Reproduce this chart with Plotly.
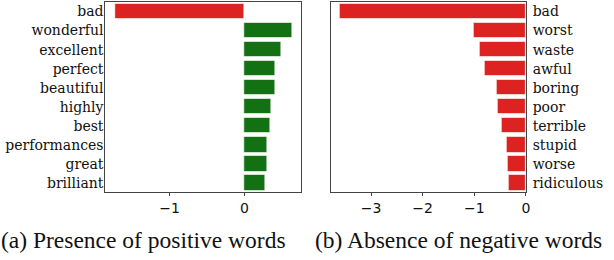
import plotly.graph_objects as go

# Data
pos_words = ["bad", "wonderful", "excellent", "perfect", "beautiful", "highly",
             "best", "performances", "great", "brilliant"]
pos_values = [-1.73, 0.64, 0.495, 0.41, 0.41, 0.36, 0.34, 0.31, 0.30, 0.28]

neg_words = ["bad", "worst", "waste", "awful", "boring", "poor", "terrible",
             "stupid", "worse", "ridiculous"]
neg_values = [-3.6, -1.0, -0.90, -0.79, -0.57, -0.54, -0.47, -0.37, -0.35, -0.33]

x_ticks_a = [-1, 0]
x_ticks_b = [-3, -2, -1, 0]

captions = ["(a) Presence of positive words", "(b) Absence of negative words"]

RED = "#dd2222"
GREEN = "#137013"

W, H = 614, 260

def colors(vals):
    return [RED if v < 0 else GREEN for v in vals]

fig = go.Figure()
fig.add_trace(go.Bar(
    x=pos_values, y=list(range(len(pos_words))), orientation="h",
    marker=dict(color=colors(pos_values), line=dict(color="rgba(255,255,255,0.6)", width=1)),
    width=0.8, xaxis="x", yaxis="y", showlegend=False,
))
fig.add_trace(go.Bar(
    x=neg_values, y=list(range(len(neg_words))), orientation="h",
    marker=dict(color=colors(neg_values), line=dict(color="rgba(255,255,255,0.6)", width=1)),
    width=0.8, xaxis="x2", yaxis="y2", showlegend=False,
))

tick_font = dict(family="DejaVu Sans", size=14, color="#111")
label_font = dict(family="DejaVu Serif", size=14, color="#111")

def ticktext(v):
    return ("\u2212" + str(abs(v))) if v < 0 else str(v)

common_x = dict(showgrid=False, zeroline=False, showline=True, linecolor="#444",
                linewidth=1, mirror=True, ticks="outside", ticklen=3,
                tickcolor="#444", tickfont=tick_font)
common_y = dict(showgrid=False, zeroline=False, showline=True, linecolor="#444",
                linewidth=1, mirror=True, ticks="", tickfont=label_font,
                range=[9.47, -0.5])

fig.update_layout(
    width=W, height=H,
    margin=dict(l=0, r=0, t=0, b=0),
    paper_bgcolor="white", plot_bgcolor="white",
    bargap=0,
    xaxis=dict(domain=[106 / W, 303 / W], range=[-1.86, 0.757],
               tickvals=x_ticks_a, ticktext=[ticktext(v) for v in x_ticks_a],
               anchor="y", **common_x),
    yaxis=dict(domain=[1 - 192 / H, 1 - 2 / H], anchor="x",
               tickvals=list(range(len(pos_words))), ticktext=pos_words,
               ticklabelstandoff=-2, **common_y),
    xaxis2=dict(domain=[333 / W, 529.3 / W], range=[-3.78, 0],
                tickvals=x_ticks_b, ticktext=[ticktext(v) for v in x_ticks_b],
                anchor="y2", **common_x),
    yaxis2=dict(domain=[1 - 192 / H, 1 - 2 / H], anchor="x2", side="right",
                tickvals=list(range(len(neg_words))), ticktext=neg_words,
                ticklabelstandoff=3, **common_y),
)

cap_font = dict(family="Liberation Serif", size=23.5, color="#111")
fig.add_annotation(text=captions[0], x=-1 / W, y=1 - 240 / H, xref="paper", yref="paper",
                   xanchor="left", yanchor="middle", showarrow=False, font=cap_font)
fig.add_annotation(text=captions[1], x=315 / W, y=1 - 240 / H, xref="paper", yref="paper",
                   xanchor="left", yanchor="middle", showarrow=False, font=cap_font)

fig.write_html("out.html", config={"displayModeBar": False},
               post_script="document.body.style.margin='0';")
